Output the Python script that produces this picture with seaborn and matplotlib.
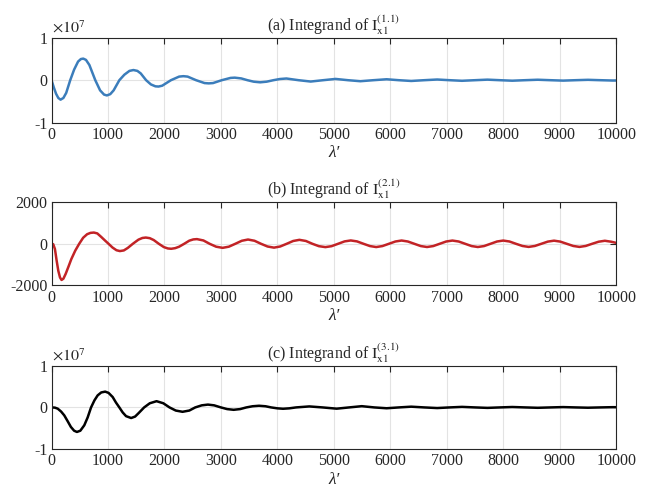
import matplotlib
matplotlib.use("Agg")
import matplotlib.pyplot as plt
import seaborn as sns
import numpy as np

# ---------------- data ----------------
xa = [0, 40, 80, 120, 160, 210, 260, 331, 400, 470, 520, 562, 610, 670, 775, 860, 930, 980,
      1040, 1100, 1201, 1290, 1380, 1450, 1520, 1580, 1675, 1760, 1840, 1895, 1960, 2115, 2260,
      2335, 2410, 2560, 2710, 2785, 2860, 3015, 3170, 3245, 3360, 3470, 3580, 3695, 3810, 3930,
      4045, 4160, 4375, 4590, 4810, 5030, 5250, 5470, 5700, 5935, 6150, 6370, 6600, 6830, 7050,
      7270, 7500, 7720, 7940, 8160, 8385, 8610, 8835, 9060, 9280, 9500, 9720, 9940, 10000]
ya = [0, -0.17, -0.32, -0.42, -0.46, -0.42, -0.30, 0.0, 0.25, 0.44, 0.50, 0.51, 0.48, 0.36, 0.0,
      -0.24, -0.34, -0.36, -0.33, -0.24, 0.0, 0.13, 0.22, 0.24, 0.22, 0.16, 0.0, -0.10, -0.145,
      -0.15, -0.13, 0.0, 0.085, 0.095, 0.085, 0.0, -0.068, -0.075, -0.068, 0.0, 0.054, 0.06,
      0.042, 0.0, -0.035, -0.05, -0.035, 0.0, 0.028, 0.04, 0.0, -0.032, 0.0, 0.03, 0.0, -0.024,
      0.0, 0.022, 0.0, -0.018, 0.0, 0.016, 0.0, -0.014, 0.0, 0.013, 0.0, -0.012, 0.0, 0.011, 0.0,
      -0.01, 0.0, 0.009, 0.0, -0.008, -0.007]

xb = [0, 30, 60, 90, 120, 150, 177, 210, 250, 300, 350, 420, 490, 560, 630, 690, 750, 810, 880,
      950, 1010, 1080, 1150, 1210, 1280, 1350, 1440, 1540, 1610, 1670, 1740, 1810, 1900, 1990,
      2060, 2120, 2190, 2260, 2350, 2440, 2510, 2575, 2690, 2800, 2915, 3030, 3140, 3255, 3370,
      3480, 3595, 3710, 3825, 3940, 4050, 4165, 4280, 4390, 4505, 4620, 4735, 4850, 4960, 5075,
      5190, 5300, 5410, 5525, 5640, 5750, 5860, 5975, 6090, 6200, 6310, 6425, 6540, 6650, 6760,
      6875, 6990, 7100, 7210, 7325, 7440, 7550, 7660, 7775, 7890, 8000, 8110, 8225, 8340, 8450,
      8560, 8675, 8790, 8900, 9010, 9125, 9240, 9350, 9460, 9575, 9690, 9800, 9910, 10000]
yb = [0, -20, -250, -800, -1300, -1620, -1740, -1680, -1450, -1100, -740, -330, 0, 290, 460, 525,
      540, 500, 330, 150, 0, -180, -310, -350, -320, -200, 0, 200, 280, 300, 270, 180, 0, -160,
      -225, -240, -210, -140, 0, 150, 210, 225, 160, 0, -140, -195, -140, 0, 145, 205, 145, 0,
      -130, -185, -130, 0, 135, 190, 135, 0, -115, -160, -115, 0, 115, 160, 115, 0, -110, -157,
      -110, 0, 110, 157, 110, 0, -110, -155, -110, 0, 110, 155, 110, 0, -110, -155, -110, 0, 110,
      155, 110, 0, -105, -150, -105, 0, 105, 150, 105, 0, -105, -150, -105, 0, 100, 145, 100, 45]

xc = [0, 60, 110, 170, 225, 285, 343, 400, 450, 510, 580, 640, 700, 760, 817, 880, 950, 1010,
      1083, 1140, 1201, 1260, 1320, 1410, 1480, 1540, 1640, 1740, 1860, 1980, 2090, 2200, 2320,
      2440, 2545, 2660, 2770, 2880, 3000, 3110, 3225, 3340, 3450, 3560, 3675, 3790, 3890, 4000,
      4100, 4210, 4330, 4565, 4800, 5050, 5270, 5495, 5715, 5935, 6150, 6370, 6600, 6830, 7050,
      7270, 7500, 7720, 7940, 8160, 8390, 8610, 8840, 9060, 9280, 9500, 9720, 9940, 10000]
yc = [0, -0.005, -0.03, -0.10, -0.19, -0.33, -0.47, -0.56, -0.59, -0.56, -0.43, -0.24, 0.0, 0.17,
      0.29, 0.36, 0.38, 0.35, 0.25, 0.12, 0.0, -0.12, -0.21, -0.255, -0.22, -0.14, 0.0, 0.10,
      0.15, 0.10, 0.0, -0.075, -0.105, -0.075, 0.0, 0.05, 0.068, 0.05, 0.0, -0.04, -0.057, -0.04,
      0.0, 0.028, 0.04, 0.028, 0.0, -0.022, -0.032, -0.022, 0.0, 0.024, 0.0, -0.03, 0.0, 0.03,
      0.0, -0.02, 0.0, 0.018, 0.0, -0.015, 0.0, 0.013, 0.0, -0.011, 0.0, 0.01, 0.0, -0.009, 0.0,
      0.008, 0.0, -0.007, 0.0, 0.006, 0.005]

titles = [r"(a) Integrand of $\mathrm{I}_{\mathrm{x1}}^{(1.1)}$",
          r"(b) Integrand of $\mathrm{I}_{\mathrm{x1}}^{(2.1)}$",
          r"(c) Integrand of $\mathrm{I}_{\mathrm{x1}}^{(3.1)}$"]
xticks = [0, 1000, 2000, 3000, 4000, 5000, 6000, 7000, 8000, 9000, 10000]
yticks_list = [[-1, 0, 1], [-2000, 0, 2000], [-1, 0, 1]]
colors = ["#3b7dbb", "#c22326", "#000000"]

# ---------------- styling ----------------
sns.set_style("white")
plt.rcParams["font.family"] = ["Liberation Serif", "DejaVu Serif"]
plt.rcParams["mathtext.fontset"] = "stix"
plt.rcParams["axes.unicode_minus"] = False
plt.rcParams["font.size"] = 11

fig = plt.figure(figsize=(6.49, 4.92), dpi=100)
positions = [[0.0794, 0.751, 0.870, 0.172],
             [0.0794, 0.420, 0.870, 0.169],
             [0.0794, 0.0874, 0.870, 0.169]]

series = [(xa, ya), (xb, yb), (xc, yc)]
for i, ((x, y), pos) in enumerate(zip(series, positions)):
    ax = fig.add_axes(pos)
    sns.lineplot(x=x, y=y, ax=ax, color=colors[i], linewidth=1.8, sort=False)
    ax.set_xlim(0, 10000)
    yt = yticks_list[i]
    ax.set_ylim(yt[0], yt[-1])
    ax.set_xticks(xticks)
    ax.set_xticklabels([str(t) for t in xticks])
    ax.set_yticks(yt)
    ax.set_yticklabels([str(t) for t in yt])
    ax.grid(True, color="#e3e3e3", linewidth=0.8)
    ax.set_axisbelow(True)
    ax.tick_params(direction="in", top=True, right=True, length=4, width=0.8,
                   colors="#262626", labelsize=11.5, pad=3)
    for s in ax.spines.values():
        s.set_color("#262626")
        s.set_linewidth(0.8)
    ax.set_title(titles[i], fontsize=11.5, pad=5)
    ax.set_xlabel("λ′", fontsize=12.5, fontstyle="italic", labelpad=2,
                  family=["Liberation Serif", "DejaVu Serif"])
    ax.set_ylabel("")
    if i != 1:
        ax.text(0.0, 1.01, r"$\times10^{7}$", transform=ax.transAxes,
                fontsize=11.5, ha="left", va="bottom", color="#262626")

fig.savefig("out.png", dpi=100)
